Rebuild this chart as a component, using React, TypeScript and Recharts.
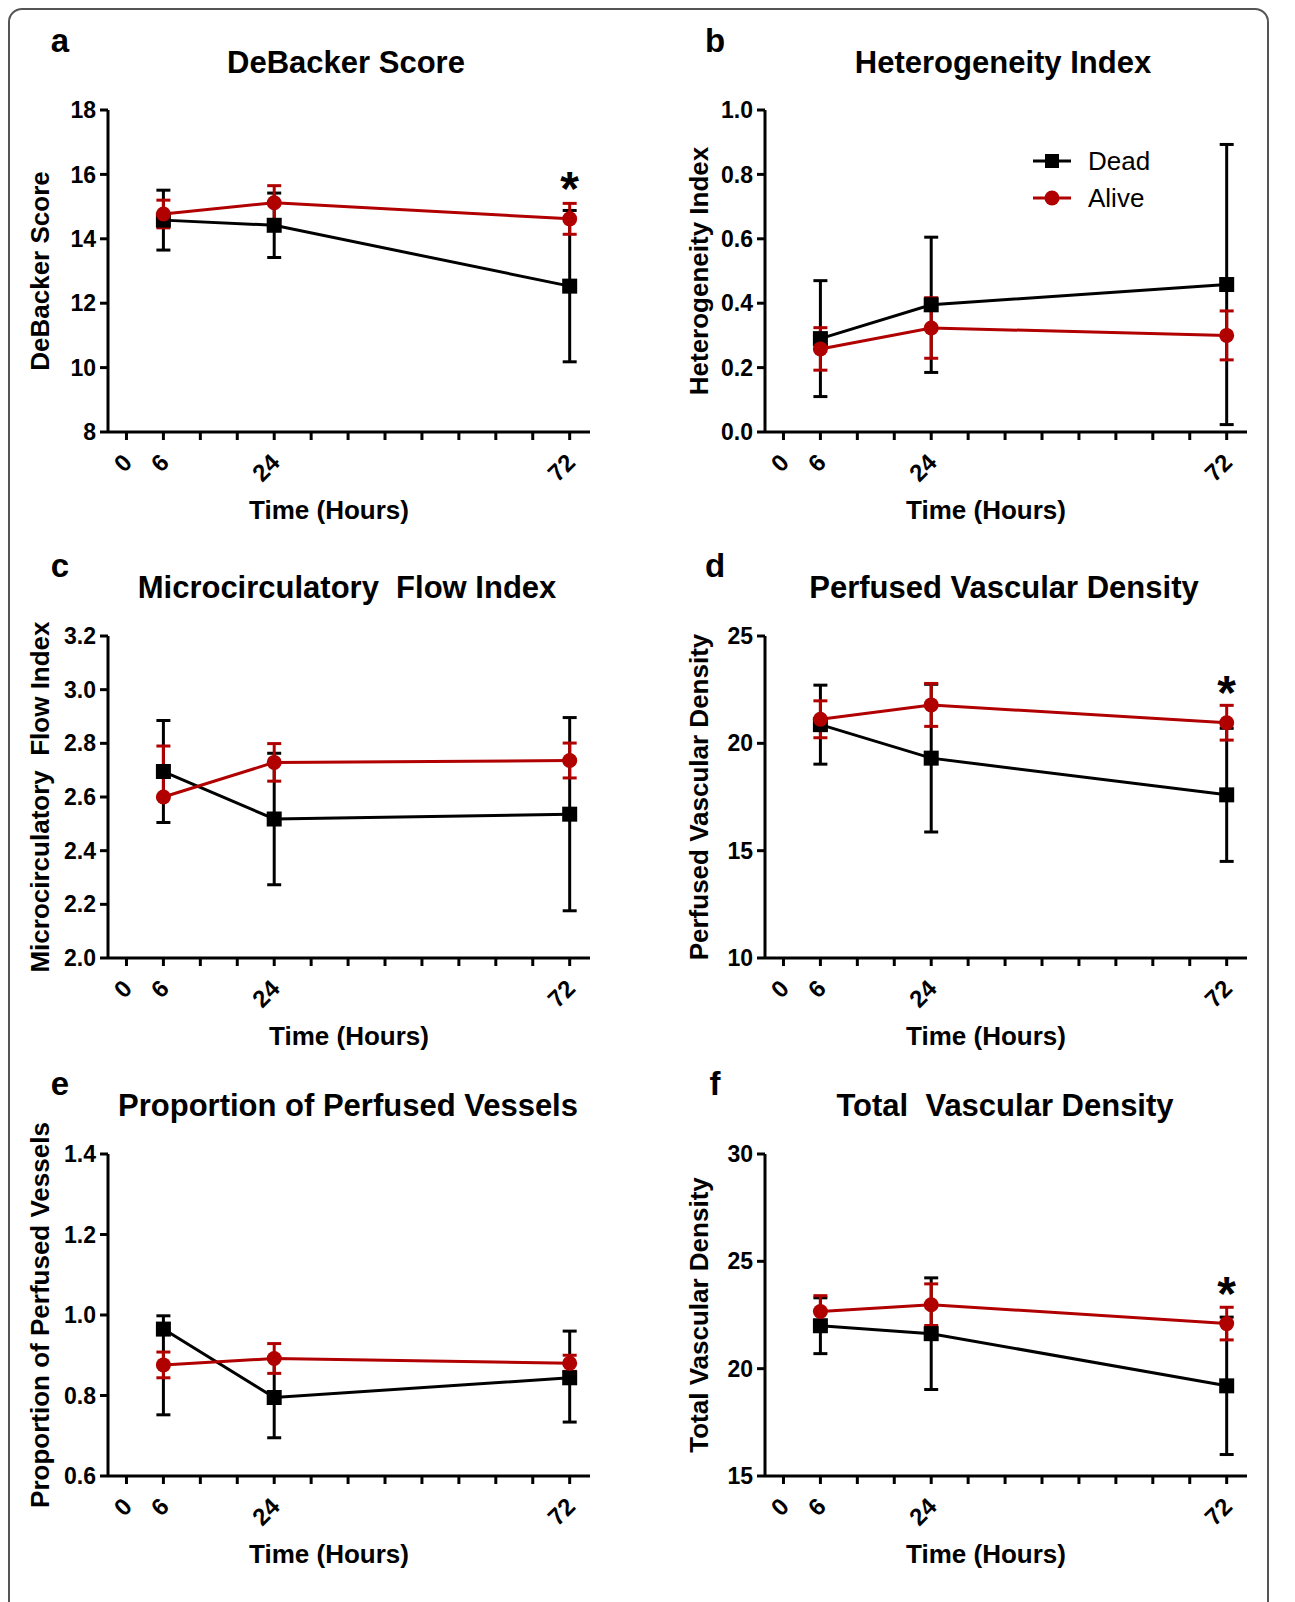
import React from 'react';
import { LineChart, Line, XAxis, YAxis, ErrorBar, LabelList } from 'recharts';

const FONT = '"Liberation Sans", Arial, Helvetica, sans-serif';
const RED = '#b00000';

const hours = [6, 24, 72];
const xTicks = [0, 6, 12, 18, 24, 30, 36, 42, 48, 54, 60, 66, 72];
const xLabeled = [0, 6, 24, 72];
const seriesNames = ['Dead', 'Alive'];

// a — DeBacker Score
const deadDeBacker = [14.58, 14.42, 12.53];
const deadDeBackerErr = [[0.93, 0.93], [1.0, 1.0], [2.35, 2.35]];
const aliveDeBacker = [14.77, 15.12, 14.62];
const aliveDeBackerErr = [[0.43, 0.43], [0.53, 0.53], [0.48, 0.48]];
const starDeBacker = [false, false, true];
const ticksDeBacker = [8, 10, 12, 14, 16, 18];

// b — Heterogeneity Index
const deadHI = [0.29, 0.395, 0.458];
const deadHIErr = [[0.18, 0.18], [0.21, 0.21], [0.435, 0.435]];
const aliveHI = [0.258, 0.323, 0.3];
const aliveHIErr = [[0.066, 0.066], [0.094, 0.094], [0.076, 0.076]];
const starHI = [false, false, false];
const ticksHI = [0, 0.2, 0.4, 0.6, 0.8, 1.0];

// c — Microcirculatory Flow Index
const deadMFI = [2.695, 2.518, 2.536];
const deadMFIErr = [[0.19, 0.19], [0.245, 0.245], [0.36, 0.36]];
const aliveMFI = [2.6, 2.729, 2.736];
const aliveMFIErr = [[0.0, 0.19], [0.07, 0.07], [0.065, 0.065]];
const starMFI = [false, false, false];
const ticksMFI = [2.0, 2.2, 2.4, 2.6, 2.8, 3.0, 3.2];

// d — Perfused Vascular Density
const deadPVD = [20.87, 19.31, 17.6];
const deadPVDErr = [[1.84, 1.84], [3.44, 3.44], [3.1, 3.1]];
const alivePVD = [21.12, 21.79, 20.96];
const alivePVDErr = [[0.86, 0.86], [1.0, 1.0], [0.81, 0.81]];
const starPVD = [false, false, true];
const ticksPVD = [10, 15, 20, 25];

// e — Proportion of Perfused Vessels
const deadPPV = [0.965, 0.795, 0.844];
const deadPPVErr = [[0.213, 0.033], [0.1, 0.1], [0.11, 0.116]];
const alivePPV = [0.876, 0.892, 0.88];
const alivePPVErr = [[0.032, 0.032], [0.037, 0.037], [0.02, 0.02]];
const starPPV = [false, false, false];
const ticksPPV = [0.6, 0.8, 1.0, 1.2, 1.4];

// f — Total Vascular Density
const deadTVD = [22.0, 21.63, 19.2];
const deadTVDErr = [[1.3, 1.3], [2.6, 2.6], [3.2, 3.2]];
const aliveTVD = [22.66, 22.98, 22.1];
const aliveTVDErr = [[0.74, 0.74], [0.97, 0.97], [0.76, 0.76]];
const starTVD = [false, false, true];
const ticksTVD = [15, 20, 25, 30];

const build = (dead: number[], deadErr: number[][], alive: number[], aliveErr: number[][], star: boolean[]) =>
  hours.map((t, i) => ({ t, dead: dead[i], deadErr: deadErr[i], alive: alive[i], aliveErr: aliveErr[i], star: star[i] }));

const PLOT_W = 482;
const PLOT_H = 322;

const panels = [
  { letter: 'a', title: 'DeBacker Score', yLabel: 'DeBacker Score', data: build(deadDeBacker, deadDeBackerErr, aliveDeBacker, aliveDeBackerErr, starDeBacker), ticks: ticksDeBacker, fmt: (v: number) => String(v), left: 108, top: 110, titleX: 346, titleY: 62, letterX: 60, letterY: 40, yLabelX: 40, xLabelX: 329, legend: false },
  { letter: 'b', title: 'Heterogeneity Index', yLabel: 'Heterogeneity Index', data: build(deadHI, deadHIErr, aliveHI, aliveHIErr, starHI), ticks: ticksHI, fmt: (v: number) => v.toFixed(1), left: 765, top: 110, titleX: 1003, titleY: 62, letterX: 715, letterY: 40, yLabelX: 699, xLabelX: 986, legend: true },
  { letter: 'c', title: 'Microcirculatory  Flow Index', yLabel: 'Microcirculatory  Flow Index', data: build(deadMFI, deadMFIErr, aliveMFI, aliveMFIErr, starMFI), ticks: ticksMFI, fmt: (v: number) => v.toFixed(1), left: 108, top: 636, titleX: 347, titleY: 587, letterX: 60, letterY: 565, yLabelX: 40, xLabelX: 349, legend: false },
  { letter: 'd', title: 'Perfused Vascular Density', yLabel: 'Perfused Vascular Density', data: build(deadPVD, deadPVDErr, alivePVD, alivePVDErr, starPVD), ticks: ticksPVD, fmt: (v: number) => String(v), left: 765, top: 636, titleX: 1004, titleY: 587, letterX: 715, letterY: 565, yLabelX: 699, xLabelX: 986, legend: false },
  { letter: 'e', title: 'Proportion of Perfused Vessels', yLabel: 'Proportion of Perfused Vessels', data: build(deadPPV, deadPPVErr, alivePPV, alivePPVErr, starPPV), ticks: ticksPPV, fmt: (v: number) => v.toFixed(1), left: 108, top: 1154, titleX: 348, titleY: 1105, letterX: 60, letterY: 1083, yLabelX: 40, xLabelX: 329, legend: false },
  { letter: 'f', title: 'Total  Vascular Density', yLabel: 'Total Vascular Density', data: build(deadTVD, deadTVDErr, aliveTVD, aliveTVDErr, starTVD), ticks: ticksTVD, fmt: (v: number) => String(v), left: 765, top: 1154, titleX: 1005, titleY: 1105, letterX: 715, letterY: 1083, yLabelX: 699, xLabelX: 986, legend: false },
];

const XTick = (props: any) => {
  const { x, y, payload } = props;
  if (!xLabeled.includes(payload.value)) return <g />;
  const ax = x + 7;
  const ay = y + 22;
  return (
    <text x={ax} y={ay} transform={`rotate(-45 ${ax} ${ay})`} textAnchor="end" fontSize={24} fontWeight={700} fill="#000" fontFamily={FONT}>
      {payload.value}
    </text>
  );
};

const SquareDot = (props: any) => {
  const { cx, cy } = props;
  if (cx == null || cy == null) return <g />;
  return <rect x={cx - 7.5} y={cy - 7.5} width={15} height={15} fill="#000" />;
};

const CircleDot = (props: any) => {
  const { cx, cy } = props;
  if (cx == null || cy == null) return <g />;
  return <circle cx={cx} cy={cy} r={7.5} fill={RED} />;
};

const StarLabel = (props: any) => {
  const { value } = props;
  const x = props.x ?? props.viewBox?.x;
  const y = props.y ?? props.viewBox?.y;
  if (!value || x == null || y == null) return <g />;
  return (
    <text x={x} y={y - 14} textAnchor="middle" fontSize={48} fontWeight={700} fill="#000" fontFamily={FONT}>
      *
    </text>
  );
};

const textBase: React.CSSProperties = {
  position: 'absolute',
  fontFamily: FONT,
  color: '#000',
  whiteSpace: 'pre',
  lineHeight: 1,
};

const Panel = ({ p }: { p: any }) => {
  const domain = [p.ticks[0], p.ticks[p.ticks.length - 1]];
  return (
    <>
      <div style={{ ...textBase, left: p.letterX, top: p.letterY, transform: 'translate(-50%, -50%)', fontSize: 33, fontWeight: 700 }}>{p.letter}</div>
      <div style={{ ...textBase, left: p.titleX, top: p.titleY, transform: 'translate(-50%, -50%)', fontSize: 31, fontWeight: 700 }}>{p.title}</div>
      <div style={{ ...textBase, left: p.yLabelX, top: p.top + PLOT_H / 2, transform: 'translate(-50%, -50%) rotate(-90deg)', fontSize: 26, fontWeight: 700 }}>{p.yLabel}</div>
      <div style={{ ...textBase, left: p.xLabelX, top: p.top + PLOT_H + 78, transform: 'translate(-50%, -50%)', fontSize: 26, fontWeight: 700 }}>Time (Hours)</div>
      <div style={{ position: 'absolute', left: p.left - 100, top: p.top - 100 }}>
        <LineChart width={PLOT_W + 120} height={PLOT_H + 200} data={p.data} margin={{ top: 100, right: 20, bottom: 40, left: 30 }}>
          <XAxis
            dataKey="t"
            type="number"
            domain={[-3, 75.3]}
            ticks={xTicks}
            interval={0}
            height={60}
            tickSize={8}
            tickMargin={2}
            axisLine={{ stroke: '#000', strokeWidth: 3 }}
            tickLine={{ stroke: '#000', strokeWidth: 3 }}
            tick={<XTick />}
            allowDataOverflow
          />
          <YAxis
            type="number"
            domain={domain}
            ticks={p.ticks}
            interval={0}
            width={70}
            tickSize={8}
            tickMargin={4}
            tickFormatter={p.fmt}
            axisLine={{ stroke: '#000', strokeWidth: 3 }}
            tickLine={{ stroke: '#000', strokeWidth: 3 }}
            tick={{ fill: '#000', fontSize: 23, fontWeight: 700, fontFamily: FONT }}
            allowDataOverflow
          />
          <Line name={seriesNames[0]} type="linear" dataKey="dead" stroke="#000" strokeWidth={3} dot={<SquareDot />} activeDot={false} isAnimationActive={false}>
            <ErrorBar dataKey="deadErr" direction="y" width={7} stroke="#000" strokeWidth={3} isAnimationActive={false} />
          </Line>
          <Line name={seriesNames[1]} type="linear" dataKey="alive" stroke={RED} strokeWidth={3} dot={<CircleDot />} activeDot={false} isAnimationActive={false}>
            <ErrorBar dataKey="aliveErr" direction="y" width={7} stroke={RED} strokeWidth={3} isAnimationActive={false} />
            <LabelList dataKey="star" content={<StarLabel />} />
          </Line>
        </LineChart>
      </div>
      {p.legend && (
        <div style={{ position: 'absolute', left: 1032, top: 142 }}>
          {seriesNames.map((name, i) => (
            <div key={name} style={{ display: 'flex', alignItems: 'center', height: 37 }}>
              <svg width={40} height={20}>
                <line x1={1} y1={10} x2={39} y2={10} stroke={i === 0 ? '#000' : RED} strokeWidth={3} />
                {i === 0 ? <rect x={13} y={3} width={14} height={14} fill="#000" /> : <circle cx={20} cy={10} r={7.5} fill={RED} />}
              </svg>
              <span style={{ fontFamily: FONT, fontSize: 26, marginLeft: 16, color: '#000', lineHeight: 1 }}>{name}</span>
            </div>
          ))}
        </div>
      )}
    </>
  );
};

export default function App() {
  return (
    <div style={{ position: 'absolute', left: 0, top: 0, width: 1295, height: 1602, overflow: 'hidden', background: '#fff' }}>
      <div style={{ position: 'absolute', left: 8, top: 8, width: 1257, height: 1640, border: '2px solid #555', borderRadius: 14 }} />
      {panels.map((p) => (
        <Panel key={p.letter} p={p} />
      ))}
    </div>
  );
}
